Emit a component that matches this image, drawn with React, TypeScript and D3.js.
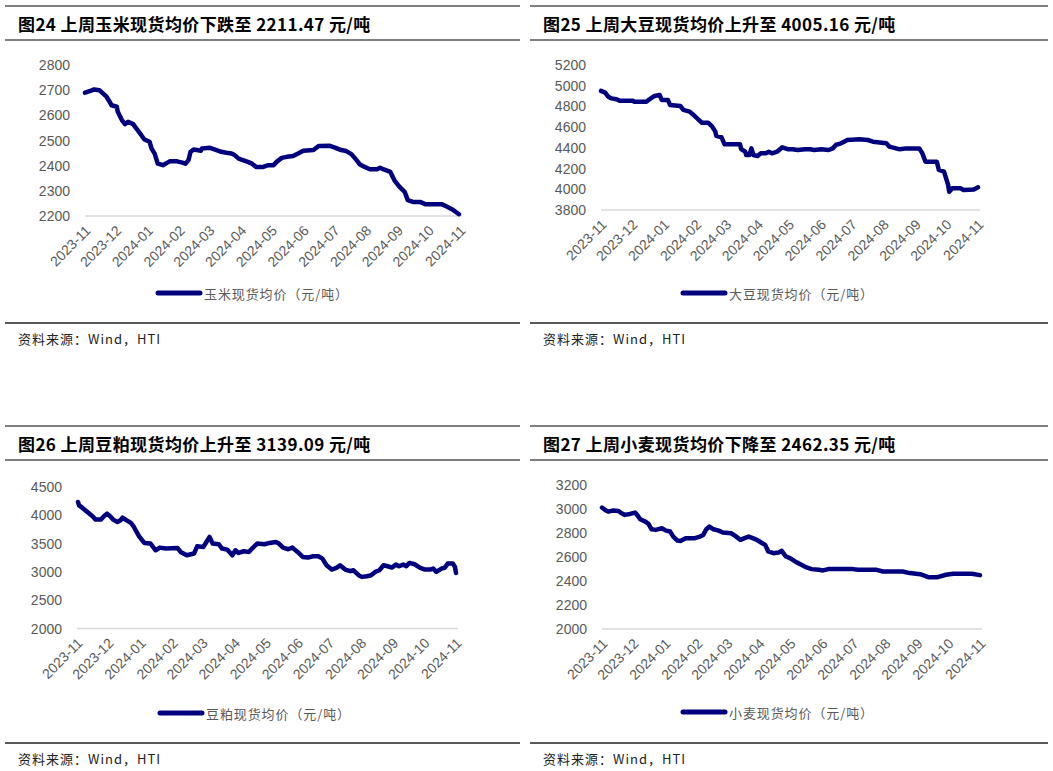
import React from "react";
import * as d3 from "d3";

// ---------- data ----------
const monthTicks = [
  "2023-11-01", "2023-12-01", "2024-01-01", "2024-02-01", "2024-03-01", "2024-04-01",
  "2024-05-01", "2024-06-01", "2024-07-01", "2024-08-01", "2024-09-01", "2024-10-01", "2024-11-01",
];

const cornDates = [
  "2023-11-01", "2023-11-07", "2023-11-10", "2023-11-15", "2023-11-22", "2023-11-25", "2023-11-27",
  "2023-12-02", "2023-12-03", "2023-12-07", "2023-12-10", "2023-12-13", "2023-12-18", "2023-12-21",
  "2023-12-26", "2023-12-29", "2024-01-03", "2024-01-05", "2024-01-08", "2024-01-11", "2024-01-16",
  "2024-01-20", "2024-01-23", "2024-01-29", "2024-02-04", "2024-02-07", "2024-02-10", "2024-02-12",
  "2024-02-15", "2024-02-18", "2024-02-22", "2024-02-23", "2024-03-02", "2024-03-07", "2024-03-13",
  "2024-03-18", "2024-03-23", "2024-03-26", "2024-03-30", "2024-04-03", "2024-04-08", "2024-04-12",
  "2024-04-16", "2024-04-23", "2024-04-28", "2024-05-03", "2024-05-06", "2024-05-11", "2024-05-16",
  "2024-05-22", "2024-05-27", "2024-06-01", "2024-06-11", "2024-06-16", "2024-06-27", "2024-07-02",
  "2024-07-08", "2024-07-13", "2024-07-18", "2024-07-23", "2024-07-26", "2024-07-31", "2024-08-05",
  "2024-08-12", "2024-08-15", "2024-08-18", "2024-08-25", "2024-08-29", "2024-09-03", "2024-09-08",
  "2024-09-11", "2024-09-16", "2024-09-23", "2024-09-28", "2024-10-09", "2024-10-14", "2024-10-20",
  "2024-10-25", "2024-10-31",
];
const cornValues = [
  2690, 2698, 2703, 2700, 2674, 2654, 2640, 2634, 2614, 2581, 2565, 2574, 2565, 2548, 2521, 2504,
  2495, 2468, 2448, 2408, 2402, 2411, 2418, 2418, 2412, 2408, 2422, 2455, 2464, 2462, 2459, 2468,
  2471, 2464, 2455, 2451, 2448, 2442, 2428, 2422, 2415, 2408, 2395, 2395, 2402, 2402, 2415, 2431,
  2435, 2438, 2448, 2459, 2462, 2478, 2479, 2472, 2462, 2458, 2446, 2422, 2406, 2395, 2386, 2386,
  2392, 2386, 2375, 2342, 2316, 2296, 2263, 2256, 2256, 2247, 2247, 2247, 2236, 2225, 2207,
];

const soyDates = [
  "2023-11-01", "2023-11-05", "2023-11-08", "2023-11-11", "2023-11-16", "2023-11-19", "2023-11-26",
  "2023-12-02", "2023-12-03", "2023-12-15", "2023-12-18", "2023-12-23", "2023-12-28", "2023-12-30",
  "2024-01-05", "2024-01-07", "2024-01-17", "2024-01-20", "2024-01-26", "2024-01-30", "2024-02-04",
  "2024-02-07", "2024-02-13", "2024-02-17", "2024-02-20", "2024-02-21", "2024-02-26", "2024-02-29",
  "2024-03-07", "2024-03-15", "2024-03-16", "2024-03-20", "2024-03-21", "2024-03-24", "2024-03-26",
  "2024-03-28", "2024-04-01", "2024-04-04", "2024-04-09", "2024-04-12", "2024-04-15", "2024-04-20",
  "2024-04-25", "2024-05-01", "2024-05-05", "2024-05-10", "2024-05-17", "2024-05-22", "2024-05-26",
  "2024-06-02", "2024-06-09", "2024-06-13", "2024-06-16", "2024-06-21", "2024-06-24", "2024-06-27",
  "2024-07-09", "2024-07-17", "2024-07-22", "2024-08-04", "2024-08-07", "2024-08-17", "2024-08-23",
  "2024-09-05", "2024-09-08", "2024-09-11", "2024-09-22", "2024-09-24", "2024-09-29", "2024-10-03",
  "2024-10-04", "2024-10-07", "2024-10-15", "2024-10-18", "2024-10-28", "2024-11-01",
];
const soyValues = [
  4950, 4933, 4894, 4878, 4869, 4856, 4856, 4856, 4846, 4846, 4869, 4901, 4910, 4862, 4862, 4814,
  4804, 4766, 4750, 4717, 4669, 4643, 4643, 4605, 4556, 4515, 4502, 4434, 4434, 4434, 4389, 4363,
  4331, 4331, 4395, 4331, 4321, 4347, 4347, 4363, 4347, 4363, 4405, 4386, 4386, 4379, 4386, 4386,
  4379, 4386, 4379, 4395, 4428, 4444, 4460, 4476, 4482, 4476, 4460, 4444, 4412, 4386, 4395, 4395,
  4347, 4267, 4267, 4187, 4171, 4042, 3977, 4009, 4009, 3993, 3999, 4019,
];

const mealDates = [
  "2023-11-02", "2023-11-03", "2023-11-06", "2023-11-11", "2023-11-16", "2023-11-19", "2023-11-24",
  "2023-11-27", "2023-11-30", "2023-12-03", "2023-12-06", "2023-12-10", "2023-12-13", "2023-12-15",
  "2023-12-19", "2023-12-23", "2023-12-26", "2023-12-28", "2023-12-31", "2024-01-05", "2024-01-11",
  "2024-01-16", "2024-01-20", "2024-01-26", "2024-02-06", "2024-02-09", "2024-02-15", "2024-02-22",
  "2024-02-25", "2024-03-02", "2024-03-05", "2024-03-08", "2024-03-11", "2024-03-17", "2024-03-20",
  "2024-03-25", "2024-03-30", "2024-04-02", "2024-04-05", "2024-04-10", "2024-04-15", "2024-04-18",
  "2024-04-23", "2024-04-30", "2024-05-05", "2024-05-11", "2024-05-14", "2024-05-18", "2024-05-23",
  "2024-05-27", "2024-06-01", "2024-06-06", "2024-06-11", "2024-06-16", "2024-06-21", "2024-06-25",
  "2024-06-29", "2024-07-04", "2024-07-09", "2024-07-12", "2024-07-17", "2024-07-22", "2024-07-25",
  "2024-07-30", "2024-08-02", "2024-08-07", "2024-08-11", "2024-08-15", "2024-08-19", "2024-08-23",
  "2024-08-27", "2024-08-31", "2024-09-04", "2024-09-07", "2024-09-11", "2024-09-14", "2024-09-17",
  "2024-09-22", "2024-09-27", "2024-10-02", "2024-10-07", "2024-10-10", "2024-10-13", "2024-10-18",
  "2024-10-21", "2024-10-24", "2024-10-29", "2024-10-31", "2024-11-01",
];
const mealValues = [
  4235, 4176, 4135, 4059, 3982, 3924, 3924, 3982, 4029, 3982, 3924, 3882, 3912, 3959, 3912, 3865,
  3794, 3724, 3629, 3512, 3500, 3382, 3429, 3412, 3424, 3353, 3294, 3324, 3453, 3441, 3529, 3618,
  3500, 3488, 3412, 3394, 3294, 3382, 3335, 3365, 3353, 3412, 3500, 3488, 3512, 3529, 3500, 3429,
  3400, 3429, 3353, 3265, 3253, 3276, 3276, 3235, 3118, 3041, 3076, 3118, 3041, 3012, 3029, 2941,
  2912, 2924, 2941, 3000, 3029, 3118, 3100, 3076, 3129, 3100, 3129, 3100, 3159, 3135, 3076, 3041,
  3041, 3059, 3000, 3059, 3071, 3147, 3147, 3088, 2982,
];

const wheatDates = [
  "2023-11-01", "2023-11-04", "2023-11-07", "2023-11-12", "2023-11-17", "2023-11-20", "2023-11-23",
  "2023-11-28", "2023-12-03", "2023-12-05", "2023-12-08", "2023-12-13", "2023-12-16", "2023-12-19",
  "2023-12-23", "2023-12-29", "2024-01-02", "2024-01-06", "2024-01-09", "2024-01-13", "2024-01-16",
  "2024-01-21", "2024-01-26", "2024-01-30", "2024-02-04", "2024-02-07", "2024-02-10", "2024-02-13",
  "2024-02-17", "2024-02-22", "2024-02-26", "2024-03-05", "2024-03-09", "2024-03-14", "2024-03-18",
  "2024-03-22", "2024-03-26", "2024-03-30", "2024-04-03", "2024-04-07", "2024-04-10", "2024-04-15",
  "2024-04-20", "2024-04-23", "2024-04-27", "2024-05-01", "2024-05-06", "2024-05-12", "2024-05-17",
  "2024-05-22", "2024-05-29", "2024-06-02", "2024-06-07", "2024-07-01", "2024-07-06", "2024-07-24",
  "2024-07-30", "2024-08-18", "2024-08-25", "2024-09-04", "2024-09-12", "2024-09-21", "2024-09-29",
  "2024-10-06", "2024-10-24", "2024-11-01",
];
const wheatValues = [
  3012, 2992, 2978, 2987, 2984, 2964, 2951, 2959, 2970, 2951, 2915, 2895, 2876, 2831, 2826, 2840,
  2820, 2812, 2770, 2737, 2734, 2757, 2757, 2757, 2770, 2784, 2831, 2854, 2831, 2820, 2804, 2798,
  2776, 2743, 2757, 2770, 2757, 2743, 2721, 2701, 2646, 2632, 2638, 2651, 2604, 2590, 2563, 2535,
  2513, 2499, 2493, 2488, 2499, 2499, 2493, 2493, 2479, 2479, 2466, 2457, 2432, 2432, 2452, 2460,
  2460, 2449,
];

const cornTicks = [2200, 2300, 2400, 2500, 2600, 2700, 2800];
const soyTicks = [3800, 4000, 4200, 4400, 4600, 4800, 5000, 5200];
const mealTicks = [2000, 2500, 3000, 3500, 4000, 4500];
const wheatTicks = [2000, 2200, 2400, 2600, 2800, 3000, 3200];

const titles = [
  "图24 上周玉米现货均价下跌至 2211.47 元/吨",
  "图25 上周大豆现货均价上升至 4005.16 元/吨",
  "图26 上周豆粕现货均价上升至 3139.09 元/吨",
  "图27 上周小麦现货均价下降至 2462.35 元/吨",
];
const legends = [
  "玉米现货均价（元/吨）",
  "大豆现货均价（元/吨）",
  "豆粕现货均价（元/吨）",
  "小麦现货均价（元/吨）",
];
const sourceText = "资料来源：Wind，HTI";

// ---------- drawing ----------
const parse = d3.timeParse("%Y-%m-%d");
const fmt = d3.timeFormat("%Y-%m");
const LINE = "#00007f";
const CJK = "'Noto Sans CJK SC', 'Noto Sans', sans-serif";
const LAT = "'Liberation Sans', Arial, sans-serif";

type Layout = {
  fl: number; fr: number; top: number; titleX: number;
  pl: number; pr: number; axisEnd: number; yTop: number; yBot: number;
  lx1: number; lx2: number; legendY: number;
};

function Panel(props: {
  lay: Layout; title: string; legend: string; dates: string[]; values: number[]; ticks: number[];
}) {
  const { lay, title, legend, dates, values, ticks } = props;
  const t = lay.top;
  const x = d3.scaleTime()
    .domain([parse(monthTicks[0])!, parse(monthTicks[monthTicks.length - 1])!])
    .range([lay.pl, lay.pr]);
  const y = d3.scaleLinear().domain([ticks[0], ticks[ticks.length - 1]]).range([lay.yBot, lay.yTop]);
  const pts: [Date, number][] = dates.map((d, i) => [parse(d)!, values[i]]);
  const path = d3.line<[Date, number]>().x((d) => x(d[0])).y((d) => y(d[1]))(pts) || "";
  return (
    <g>
      <line x1={lay.fl} x2={lay.fr} y1={t} y2={t} stroke="#555" strokeWidth={1.6} />
      <text x={lay.titleX} y={t + 17} dominantBaseline="central" fontFamily={CJK} fontWeight={700}
        fontSize={17} letterSpacing={0.4} fill="#000">{title}</text>
      <line x1={lay.fl} x2={lay.fr} y1={t + 34} y2={t + 34} stroke="#555" strokeWidth={1.6} />
      {ticks.map((v) => (
        <text key={v} x={lay.pl - 15} y={y(v)} textAnchor="end" dominantBaseline="central"
          fontFamily={LAT} fontSize={14} fill="#595959">{v}</text>
      ))}
      <line x1={lay.pl} x2={lay.axisEnd} y1={lay.yBot} y2={lay.yBot} stroke="#d9d9d9" strokeWidth={1.5} />
      {monthTicks.map((m) => {
        const tx = x(parse(m)!);
        return (
          <text key={m} transform={`translate(${tx + 3},${lay.yBot + 12}) rotate(-45)`}
            textAnchor="end" dominantBaseline="central" fontFamily={LAT} fontSize={14}
            fill="#595959">{fmt(parse(m)!)}</text>
        );
      })}
      <path d={path} fill="none" stroke={LINE} strokeWidth={4.5} strokeLinejoin="round" strokeLinecap="round" />
      <line x1={lay.lx1} x2={lay.lx2} y1={lay.legendY} y2={lay.legendY} stroke={LINE} strokeWidth={5}
        strokeLinecap="round" />
      <text x={lay.lx2 + 4} y={lay.legendY} dominantBaseline="central" fontFamily={CJK} fontSize={13}
        letterSpacing={0.9} fill="#595959">{legend}</text>
      <line x1={lay.fl} x2={lay.fr} y1={t + 317} y2={t + 317} stroke="#222" strokeWidth={1.6} />
      <text x={lay.titleX} y={t + 332} dominantBaseline="central" fontFamily={CJK} fontSize={13}
        letterSpacing={1} fill="#222">{sourceText}</text>
    </g>
  );
}

const layouts: Layout[] = [
  { fl: 5, fr: 520, top: 6, titleX: 18, pl: 85, pr: 460, axisEnd: 462, yTop: 65, yBot: 216, lx1: 158, lx2: 200, legendY: 293 },
  { fl: 530, fr: 1048, top: 6, titleX: 543, pl: 601, pr: 978, axisEnd: 980, yTop: 65, yBot: 210, lx1: 683, lx2: 725, legendY: 293 },
  { fl: 5, fr: 520, top: 426, titleX: 18, pl: 77, pr: 456, axisEnd: 458, yTop: 487, yBot: 628.5, lx1: 160, lx2: 202, legendY: 713 },
  { fl: 530, fr: 1048, top: 426, titleX: 543, pl: 602, pr: 980, axisEnd: 982, yTop: 485, yBot: 629, lx1: 683, lx2: 725, legendY: 712 },
];

export default function App() {
  const series = [
    { dates: cornDates, values: cornValues, ticks: cornTicks },
    { dates: soyDates, values: soyValues, ticks: soyTicks },
    { dates: mealDates, values: mealValues, ticks: mealTicks },
    { dates: wheatDates, values: wheatValues, ticks: wheatTicks },
  ];
  return (
    <div style={{ position: "absolute", left: 0, top: 0 }}>
      <svg width={1053} height={771} style={{ display: "block", background: "#fff" }}>
        {series.map((s, i) => (
          <Panel key={i} lay={layouts[i]} title={titles[i]} legend={legends[i]} dates={s.dates}
            values={s.values} ticks={s.ticks} />
        ))}
      </svg>
    </div>
  );
}
